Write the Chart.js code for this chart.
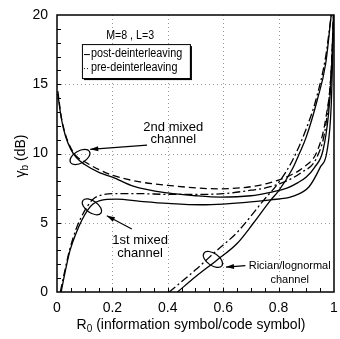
<!DOCTYPE html>
<html><head><meta charset="utf-8">
<script src="https://cdn.jsdelivr.net/npm/chart.js@4.4.0/dist/chart.umd.min.js"></script>
<style>html,body{margin:0;padding:0;background:#fff;}#wrap{width:340px;height:339px;}</style>
</head><body><div id="wrap"><canvas id="c" width="340" height="339"></canvas></div>
<script>
// ---- data ----
const xTickValues = [0, 0.2, 0.4, 0.6, 0.8, 1];
const yTickValues = [0, 5, 10, 15, 20];

const mixed2PostX = [0.003,0.015,0.03,0.05,0.07,0.1,0.155,0.2,0.275,0.4,0.5,0.59,0.7,0.77,0.83,0.87,0.9,0.93,0.96,0.98,0.99,0.998];
const mixed2PostY = [14.3,12.6,11.3,10.3,9.7,9.2,8.6,8.3,7.65,7.15,6.95,6.85,6.95,7.2,7.5,7.9,8.3,9.0,10.2,12.8,15.5,20];
const mixed2PreX  = [0.003,0.015,0.03,0.05,0.07,0.1,0.19,0.3,0.4,0.58,0.7,0.77,0.85,0.89,0.94,0.97,0.99,0.998];
const mixed2PreY  = [14.5,12.7,11.4,10.4,9.8,9.4,8.5,7.95,7.7,7.45,7.6,7.9,8.5,9.0,10.2,12.5,16,20];

const mixed1PostX = [0.015,0.03,0.047,0.07,0.09,0.11,0.13,0.155,0.215,0.3,0.4,0.52,0.6,0.7,0.77,0.85,0.91,0.95,0.975,0.99,0.999];
const mixed1PostY = [0,1.5,3.0,4.3,5.2,5.9,6.35,6.6,6.7,6.55,6.4,6.3,6.35,6.5,6.65,6.9,7.6,9.0,10.2,13.5,20];
const mixed1PreX  = [0.012,0.03,0.045,0.07,0.09,0.11,0.13,0.16,0.215,0.3,0.4,0.52,0.6,0.7,0.77,0.88,0.94,0.97,0.99,0.999];
const mixed1PreY  = [0,1.7,3.0,4.6,5.5,6.2,6.7,7.0,7.1,7.1,7.05,7.05,7.1,7.35,7.6,8.6,9.8,12,16,20];

const ricianPostX = [0.435,0.5,0.577,0.65,0.71,0.77,0.8,0.85,0.875,0.9,0.94,0.97,0.99];
const ricianPostY = [0,1.1,2.3,3.5,5.0,6.6,7.3,8.9,10.0,11.2,13.9,16.5,20];
const ricianPreX  = [0.405,0.5,0.577,0.65,0.745,0.8,0.85,0.9,0.935,0.97,0.99];
const ricianPreY  = [0,1.6,3.0,4.3,6.6,7.9,9.5,11.8,13.9,17,20];

const legendLabels = ['post-deinterleaving', 'pre-deinterleaving'];
const paramLabel = 'M=8 , L=3';
const xTitleMain = 'R', xTitleSub = '0', xTitleRest = ' (information symbol/code symbol)';
const yTitleMain = '\u03b3', yTitleSub = 'b', yTitleRest = ' (dB)';

// annotation anchors in data coordinates
const notes = [
  {lines:['2nd mixed','channel'], tx:0.42, ty:[11.9,11.0], size:13,
   ell:{x:0.083,y:9.75,rx:11,ry:6,rot:-30}, arrow:[0.325,10.6,0.12,10.3]},
  {lines:['1st mixed','channel'], tx:0.30, ty:[3.75,2.8], size:13,
   ell:{x:0.126,y:6.15,rx:11,ry:6,rot:35}, arrow:[0.27,4.55,0.18,5.5]},
  {lines:['Rician/lognormal','channel'], tx:0.84, ty:[1.85,0.85], size:11,
   ell:{x:0.563,y:2.35,rx:11,ry:6,rot:35}, arrow:[0.68,1.9,0.61,1.8]}
];

const pts = (xs, ys) => xs.map((v, i) => ({x: v, y: ys[i]}));

function ds(xs, ys, dash) {
  return {data: pts(xs, ys), borderColor:'#000', borderWidth:1.3, borderDash:dash,
    pointRadius:0, showLine:true, fill:false, cubicInterpolationMode:'monotone'};
}

const FONT = '"Liberation Sans", Arial, Helvetica, sans-serif';
Chart.defaults.font.family = FONT;
Chart.defaults.color = '#000';

function drawSubText(ctx, main, sub, rest, size, cx, cy) {
  ctx.font = size + 'px ' + FONT;
  const w1 = ctx.measureText(main).width;
  const w3 = ctx.measureText(rest).width;
  ctx.font = Math.round(size*0.72) + 'px ' + FONT;
  const w2 = ctx.measureText(sub).width;
  const total = w1 + w2 + w3;
  let x0 = cx - total/2;
  ctx.textAlign = 'left'; ctx.textBaseline = 'middle';
  ctx.font = size + 'px ' + FONT;
  ctx.fillText(main, x0, cy);
  ctx.font = Math.round(size*0.72) + 'px ' + FONT;
  ctx.fillText(sub, x0 + w1, cy + size*0.3);
  ctx.font = size + 'px ' + FONT;
  ctx.fillText(rest, x0 + w1 + w2, cy);
}

function condensedText(ctx, text, x, y, sx) {
  ctx.save();
  ctx.translate(x, y); ctx.scale(sx, 1);
  ctx.fillText(text, 0, 0);
  ctx.restore();
}

const decor = {
  id: 'decor',
  beforeDatasetsDraw(chart) {
    const {ctx, chartArea: a, scales: {x, y}} = chart;
    ctx.save();
    ctx.strokeStyle = '#999'; ctx.lineWidth = 1; ctx.setLineDash([1, 3]);
    xTickValues.forEach(v => {
      if (v <= 0 || v >= 1) return;
      const px = Math.round(x.getPixelForValue(v)) + 0.5;
      ctx.beginPath(); ctx.moveTo(px, a.top); ctx.lineTo(px, a.bottom); ctx.stroke();
    });
    yTickValues.forEach(v => {
      if (v <= 0 || v >= 20) return;
      const py = Math.round(y.getPixelForValue(v)) + 0.5;
      ctx.beginPath(); ctx.moveTo(a.left, py); ctx.lineTo(a.right, py); ctx.stroke();
    });
    ctx.restore();
  },
  afterDatasetsDraw(chart) {
    const {ctx, chartArea: a, scales: {x, y}} = chart;
    ctx.save();
    ctx.setLineDash([]);
    ctx.strokeStyle = '#000'; ctx.fillStyle = '#000';
    // frame
    ctx.lineWidth = 1.5;
    ctx.strokeRect(a.left, a.top, a.right - a.left, a.bottom - a.top);
    // minor ticks (inside)
    ctx.lineWidth = 1;
    for (let v = 0.05; v < 1; v += 0.05) {
      const px = Math.round(x.getPixelForValue(v)) + 0.5;
      ctx.beginPath(); ctx.moveTo(px, a.bottom); ctx.lineTo(px, a.bottom - 4); ctx.stroke();
    }
    for (let v = 1; v < 20; v += 1) {
      const py = Math.round(y.getPixelForValue(v)) + 0.5;
      ctx.beginPath(); ctx.moveTo(a.left, py); ctx.lineTo(a.left + 4, py); ctx.stroke();
    }
    // annotations
    notes.forEach(n => {
      const ex = x.getPixelForValue(n.ell.x), ey = y.getPixelForValue(n.ell.y);
      ctx.lineWidth = 1.2;
      ctx.beginPath();
      ctx.ellipse(ex, ey, n.ell.rx, n.ell.ry, n.ell.rot * Math.PI/180, 0, 2*Math.PI);
      ctx.stroke();
      const x1 = x.getPixelForValue(n.arrow[0]), y1 = y.getPixelForValue(n.arrow[1]);
      const x2 = x.getPixelForValue(n.arrow[2]), y2 = y.getPixelForValue(n.arrow[3]);
      ctx.beginPath(); ctx.moveTo(x1, y1); ctx.lineTo(x2, y2); ctx.stroke();
      const ang = Math.atan2(y2 - y1, x2 - x1);
      ctx.beginPath();
      ctx.moveTo(x2, y2);
      ctx.lineTo(x2 - 8*Math.cos(ang) + 2.5*Math.sin(ang), y2 - 8*Math.sin(ang) - 2.5*Math.cos(ang));
      ctx.lineTo(x2 - 8*Math.cos(ang) - 2.5*Math.sin(ang), y2 - 8*Math.sin(ang) + 2.5*Math.cos(ang));
      ctx.closePath(); ctx.fill();
      ctx.font = n.size + 'px ' + FONT;
      ctx.textAlign = 'center'; ctx.textBaseline = 'middle';
      n.lines.forEach((t, i) => ctx.fillText(t, x.getPixelForValue(n.tx), y.getPixelForValue(n.ty[i])));
    });
    // parameter label
    ctx.font = '13px ' + FONT;
    ctx.textAlign = 'center'; ctx.textBaseline = 'middle';
    condensedText(ctx, paramLabel, x.getPixelForValue(0.264), y.getPixelForValue(18.55), 0.82);
    // legend box with shadow
    const bx = x.getPixelForValue(0.09), by = y.getPixelForValue(17.9);
    const bw = 108, bh = 34;
    ctx.fillRect(bx + 2, by + 2, bw, bh);
    ctx.fillStyle = '#fff'; ctx.fillRect(bx, by, bw, bh);
    ctx.fillStyle = '#000'; ctx.lineWidth = 1; ctx.strokeRect(bx + 0.5, by + 0.5, bw, bh);
    ctx.font = '12px ' + FONT; ctx.textAlign = 'left'; ctx.textBaseline = 'middle';
    ctx.beginPath(); ctx.moveTo(bx + 2, by + 10.5); ctx.lineTo(bx + 8, by + 10.5); ctx.stroke();
    condensedText(ctx, legendLabels[0], bx + 9, by + 10, 0.9);
    ctx.setLineDash([1, 2]);
    ctx.beginPath(); ctx.moveTo(bx + 2, by + 24.5); ctx.lineTo(bx + 8, by + 24.5); ctx.stroke();
    ctx.setLineDash([]);
    condensedText(ctx, legendLabels[1], bx + 9, by + 24, 0.9);
    // axis titles
    drawSubText(ctx, xTitleMain, xTitleSub, xTitleRest, 14, 191, 325);
    ctx.save();
    ctx.translate(21, 156); ctx.rotate(-Math.PI/2);
    drawSubText(ctx, yTitleMain, yTitleSub, yTitleRest, 14, 0, 0);
    ctx.restore();
    ctx.restore();
  }
};

new Chart(document.getElementById('c'), {
  type: 'scatter',
  data: {datasets: [
    ds(mixed2PostX, mixed2PostY, []),
    ds(mixed2PreX, mixed2PreY, [7, 4]),
    ds(mixed1PostX, mixed1PostY, []),
    ds(mixed1PreX, mixed1PreY, [8, 3, 2, 3]),
    ds(ricianPostX, ricianPostY, []),
    ds(ricianPreX, ricianPreY, [8, 3, 2, 3])
  ]},
  options: {
    responsive: false, animation: false, devicePixelRatio: 1,
    layout: {padding: {left: 0, right: 6, top: 15, bottom: 0}},
    plugins: {legend: {display: false}, tooltip: {enabled: false}},
    scales: {
      x: {type: 'linear', min: 0, max: 1,
        afterFit: s => { s.height = 47; s.paddingLeft = 0; s.paddingRight = 0; },
        afterBuildTicks: s => { s.ticks = xTickValues.map(v => ({value: v})); },
        ticks: {padding: 8, font: {size: 14}, color: '#000', callback: v => String(+v.toFixed(1))},
        grid: {display: false, drawTicks: false}, border: {display: false}},
      y: {type: 'linear', min: 0, max: 20,
        afterFit: s => { s.width = 57; s.paddingTop = 0; s.paddingBottom = 0; },
        afterBuildTicks: s => { s.ticks = yTickValues.map(v => ({value: v})); },
        ticks: {padding: 9, font: {size: 14}, color: '#000'},
        grid: {display: false, drawTicks: false}, border: {display: false}}
    }
  },
  plugins: [decor]
});
</script></body></html>
